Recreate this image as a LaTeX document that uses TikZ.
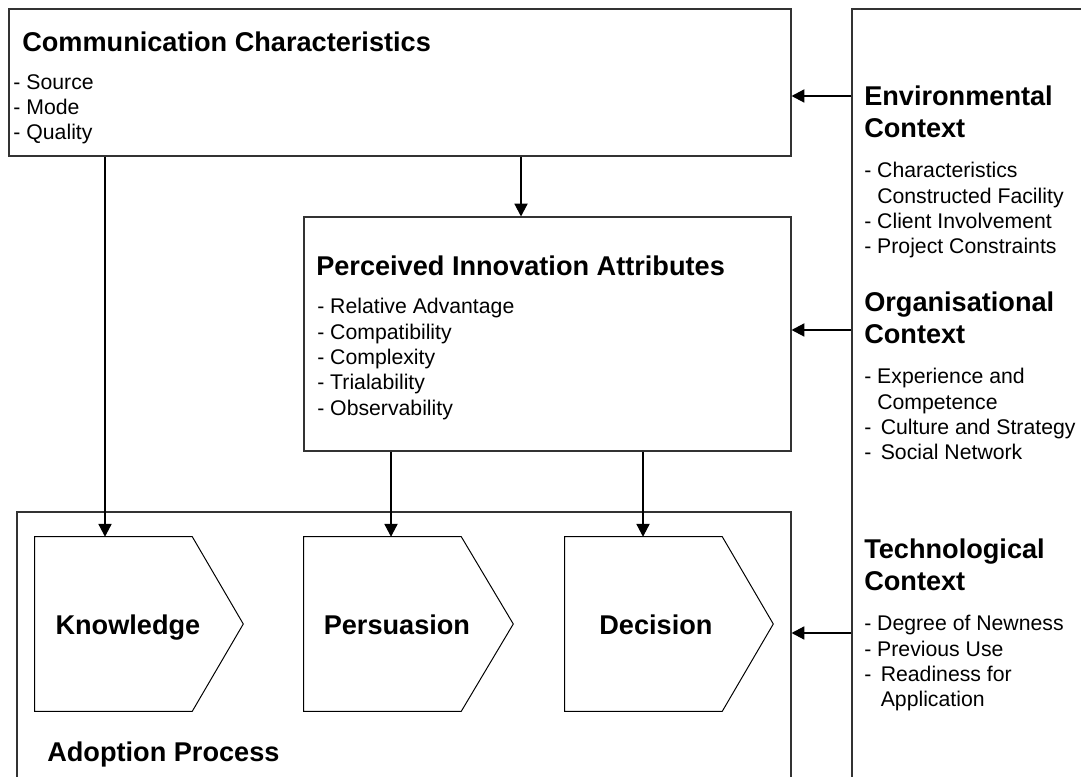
\documentclass[tikz,border=0pt]{standalone}
\usepackage{fontspec}
\setmainfont{Liberation Sans}
\usetikzlibrary{arrows.meta}

\begin{document}
\begin{tikzpicture}[
  box/.style={draw=black!80, line width=0.8pt, inner sep=0pt},
  stagebody/.style={minimum width=3.925cm, minimum height=4.35cm, inner sep=0pt},
  stage/.style={draw=black, line width=0.7pt, line join=miter},
  head/.style={font=\fontsize{19.3}{22.6}\selectfont\bfseries, align=left, anchor=north west, inner sep=0pt},
  item/.style={font=\fontsize{15.1}{18.1}\selectfont, align=left, anchor=north west, inner sep=0pt},
  lab/.style={font=\fontsize{19.3}{22.6}\selectfont\bfseries, anchor=base, inner sep=0pt},
  arr/.style={line width=0.8pt, -{Triangle[length=3.2mm, width=3.3mm]}},
]
  \useasboundingbox (0,0) rectangle (27.025,19.4);
  \clip (0,0) rectangle (27.025,19.4);

  % frames (the right and the bottom one run off the page)
  \node[box, minimum width=19.55cm, minimum height=3.675cm] (comm) at (10.0,17.3375) {};
  \node[box, minimum width=12.175cm, minimum height=5.85cm] (perc) at (13.6875,11.05) {};
  \node[box, minimum width=19.35cm, minimum height=7.6cm] (adopt) at (10.1,2.8) {};
  \node[box, minimum width=6.7cm, minimum height=20.175cm] (ctx) at (24.65,9.0875) {};

  % three stages of the adoption process
  \node[stagebody] (know) at (2.8375,3.8) {};
  \node[stagebody] (pers) at (9.5625,3.8) {};
  \node[stagebody] (dec) at (16.0875,3.8) {};
  \draw[stage] (know.north west) -- (know.north east) -- ([xshift=1.275cm]know.east)
    -- (know.south east) -- (know.south west) -- cycle;
  \draw[stage] (pers.north west) -- (pers.north east) -- ([xshift=1.3cm]pers.east)
    -- (pers.south east) -- (pers.south west) -- cycle;
  \draw[stage] (dec.north west) -- (dec.north east) -- ([xshift=1.275cm]dec.east)
    -- (dec.south east) -- (dec.south west) -- cycle;
  \node[lab] (knowt) at ([xshift=0.36cm, yshift=-0.275cm]know.center) {Knowledge};
  \node[lab] (perst) at ([xshift=0.36cm, yshift=-0.275cm]pers.center) {Persuasion};
  \node[lab] (dect) at ([xshift=0.31cm, yshift=-0.275cm]dec.center) {Decision};

  % texts
  \node[head] (commt) at (0.55,18.6) {Communication Characteristics};
  \node[item] (comml) at (0.33,17.55) {- Source\\- Mode\\- Quality};
  \node[head] (perct) at (7.9,13.0) {Perceived Innovation Attributes};
  \node[item] (percl) at (7.925,11.95)
       {- Relative Advantage\\- Compatibility\\- Complexity\\- Trialability\\- Observability};
  \node[head] (adoptt) at (1.175,0.85) {Adoption Process};

  \node[head] (envt) at (21.6,17.25) {Environmental\\Context};
  \node[item] (envl) at (21.6,15.35)
       {- Characteristics\\\phantom{- }Constructed Facility\\- Client Involvement\\- Project Constraints};
  \node[head] (orgt) at (21.6,12.1) {Organisational\\Context};
  \node[item] (orgl) at (21.6,10.2)
       {- Experience and\\\phantom{- }Competence\\-\,\ Culture and Strategy\\-\,\ Social Network};
  \node[head] (techt) at (21.6,5.925) {Technological\\Context};
  \node[item] (techl) at (21.6,4.025)
       {- Degree of Newness\\- Previous Use\\-\,\ Readiness for\\\phantom{-\,\ }Application};

  % where the arrows run
  \coordinate (cpx) at (13.025,0);
  \coordinate (kx) at (2.625,0);
  \coordinate (px) at (9.775,0);
  \coordinate (dx) at (16.075,0);
  \coordinate (ey) at (0,17.0);
  \coordinate (oy) at (0,11.15);
  \coordinate (ty) at (0,3.575);

  \draw[arr] (comm.south -| cpx) -- (perc.north -| cpx);
  \draw[arr] (comm.south -| kx) -- (know.north -| kx);
  \draw[arr] (perc.south -| px) -- (pers.north -| px);
  \draw[arr] (perc.south -| dx) -- (dec.north -| dx);
  \draw[arr] (ctx.west |- ey) -- (comm.east |- ey);
  \draw[arr] (ctx.west |- oy) -- (perc.east |- oy);
  \draw[arr] (ctx.west |- ty) -- (adopt.east |- ty);
\end{tikzpicture}
\end{document}
